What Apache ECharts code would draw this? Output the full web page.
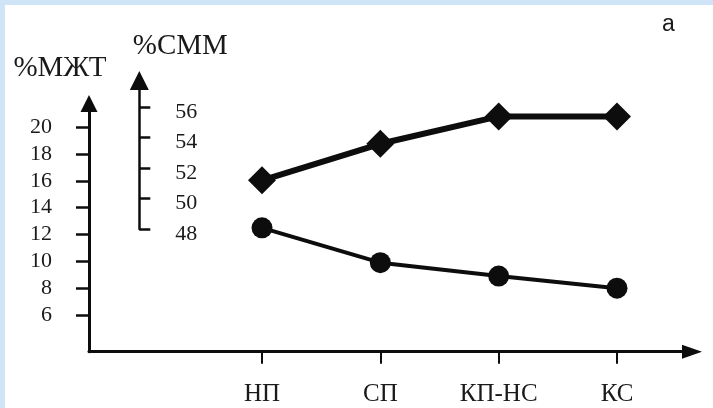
<!DOCTYPE html>
<html>
<head>
<meta charset="utf-8">
<script src="https://cdn.jsdelivr.net/npm/echarts@6/dist/echarts.min.js"></script>
<style>
  html, body { margin: 0; padding: 0; }
  #chart {
    width: 713px; height: 408px;
    background:
      linear-gradient(to right, #cfe4f7 5px, rgba(255,255,255,0) 5px),
      linear-gradient(to bottom, #cfe4f7 5px, #ffffff 5px);
  }
</style>
</head>
<body>
<div id="chart"></div>
<script>
// Stages along the horizontal axis
const categories = ['НП', 'СП', 'КП-НС', 'КС'];
// %МЖТ per stage (circles, left scale)
const mztValues = [12.5, 9.9, 8.9, 8.0];
// %СММ per stage (diamonds, inner scale)
const smmValues = [51.2, 53.6, 55.4, 55.4];
// Tick labels of the two vertical scales
const mztTicks = [6, 8, 10, 12, 14, 16, 18, 20];
const smmTicks = [48, 50, 52, 54, 56];

const INK = '#0d0d0d';
const TEXT = '#1a1a1a';
const SERIF = 'Liberation Serif';

const chart = echarts.init(document.getElementById('chart'), null, { renderer: 'canvas' });

const option = {
  animation: false,
  backgroundColor: 'transparent',
  textStyle: { fontFamily: SERIF, color: TEXT },
  title: {
    text: 'а',
    left: 657,
    top: 8,
    textStyle: { fontFamily: 'Liberation Sans', fontSize: 23, fontWeight: 'normal', color: TEXT }
  },
  grid: [
    // frame carrying the arrowed horizontal axis and the %МЖТ axis
    { left: 89, right: 21, top: 103.5, bottom: 56.3 },
    // plotting area for the %МЖТ line
    { left: 262, right: 96, top: 103.5, bottom: 56.3 },
    // plotting area for the %СММ line
    { left: 262, right: 96, top: 80.5, bottom: 179 }
  ],
  xAxis: [
    {
      gridIndex: 0, type: 'value', min: 0, max: 1,
      axisLine: {
        show: true, symbol: ['none', 'triangle'], symbolSize: [14, 20],
        lineStyle: { color: INK, width: 3 }
      },
      axisTick: { show: false }, axisLabel: { show: false }, splitLine: { show: false }
    },
    {
      gridIndex: 1, type: 'category', data: categories, boundaryGap: false,
      axisLine: { show: false },
      axisTick: { show: true, length: 12, lineStyle: { color: INK, width: 2 } },
      axisLabel: { interval: 0, margin: 30, fontSize: 25, color: TEXT, fontFamily: SERIF },
      splitLine: { show: false }
    },
    {
      gridIndex: 2, type: 'category', data: categories, boundaryGap: false, show: false
    }
  ],
  yAxis: [
    {
      gridIndex: 0, type: 'value', min: 3.26, max: 21.77,
      name: '%МЖТ', nameLocation: 'end', nameGap: 21,
      nameTextStyle: { fontSize: 29, color: TEXT, fontFamily: SERIF, padding: [0, 58, 0, 0] },
      axisLine: {
        show: true, symbol: ['none', 'triangle'], symbolSize: [17, 17],
        lineStyle: { color: INK, width: 3 }
      },
      axisTick: { show: true, length: 13, customValues: mztTicks, lineStyle: { color: INK, width: 2.5 } },
      axisLabel: { customValues: mztTicks, margin: 37, fontSize: 22, color: TEXT, fontFamily: SERIF },
      splitLine: { show: false }
    },
    {
      gridIndex: 1, type: 'value', min: 3.26, max: 21.77, show: false
    },
    {
      gridIndex: 2, type: 'value', min: 48, max: 57.76, offset: 122.7,
      name: '%СММ', nameLocation: 'end', nameGap: 20,
      nameTextStyle: { fontSize: 29, color: TEXT, fontFamily: SERIF, padding: [0, 0, 0, 82] },
      axisLine: {
        show: true, symbol: ['none', 'triangle'], symbolSize: [19, 19],
        lineStyle: { color: INK, width: 2.5 }
      },
      axisTick: { show: true, inside: true, length: 11, customValues: smmTicks, lineStyle: { color: INK, width: 2.5 } },
      axisLabel: {
        inside: true, customValues: smmTicks, margin: 36, color: TEXT,
        // labels of this scale sit a little below their ticks
        formatter: (v) => '{s|' + v + '}',
        rich: { s: { fontSize: 22, fontFamily: SERIF, color: TEXT, padding: [10, 0, 0, 0] } }
      },
      splitLine: { show: false }
    }
  ],
  series: [
    {
      name: '%МЖТ', type: 'line', xAxisIndex: 1, yAxisIndex: 1,
      data: mztValues,
      symbol: 'circle', symbolSize: 21,
      lineStyle: { color: INK, width: 4 },
      itemStyle: { color: INK },
      z: 5
    },
    {
      name: '%СММ', type: 'line', xAxisIndex: 2, yAxisIndex: 2,
      data: smmValues,
      symbol: 'diamond', symbolSize: 28,
      lineStyle: { color: INK, width: 6 },
      itemStyle: { color: INK },
      z: 5
    }
  ]
};

chart.setOption(option);
</script>
</body>
</html>
